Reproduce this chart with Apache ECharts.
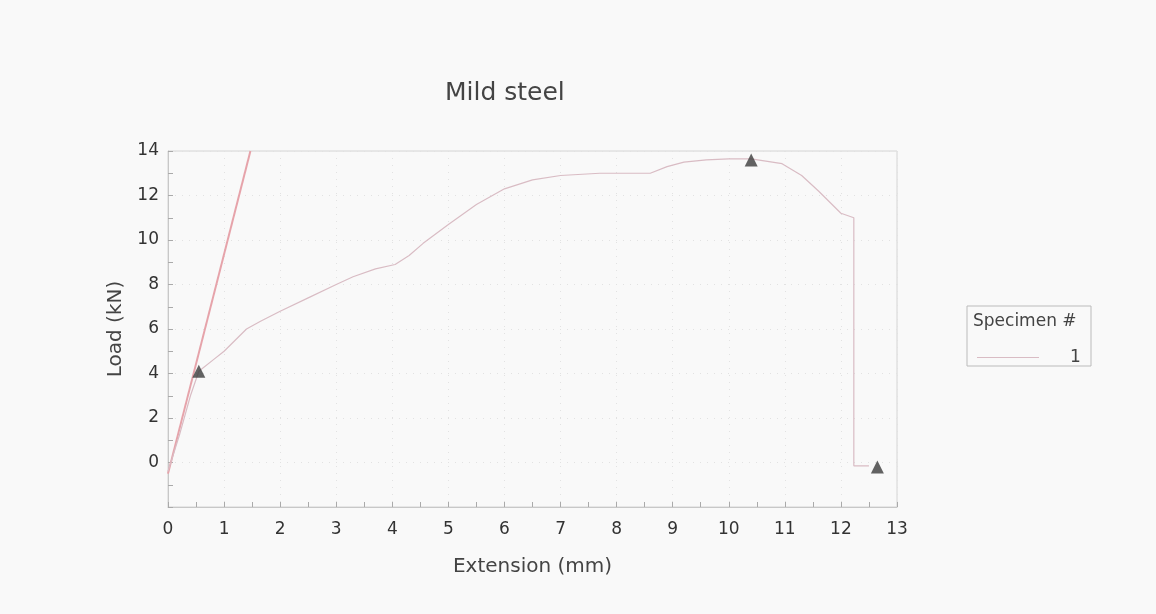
<!DOCTYPE html>
<html>
<head>
<meta charset="utf-8">
<script src="https://cdn.jsdelivr.net/npm/echarts@6/dist/echarts.min.js"></script>
<style>
html,body{margin:0;padding:0;background:#f9f9f9;}
#c{width:1156px;height:614px;}
</style>
</head>
<body>
<div id="c"></div>
<script>
// Extension (mm), Load (kN)
const curveX = [0, 0.2, 0.4, 0.55, 0.8, 1.0, 1.4, 1.65, 2.0, 2.5, 3.0, 3.3, 3.7, 4.05, 4.3, 4.55, 5.0, 5.5, 6.0, 6.5, 7.0, 7.7, 8.6, 8.9, 9.2, 9.6, 10.0, 10.4, 10.95, 11.3, 11.6, 12.0, 12.23, 12.23, 12.5];
const curveY = [-0.4, 1.2, 3.0, 4.1, 4.6, 5.0, 6.0, 6.35, 6.8, 7.4, 8.0, 8.35, 8.7, 8.9, 9.3, 9.85, 10.7, 11.6, 12.3, 12.7, 12.9, 13.0, 13.0, 13.3, 13.5, 13.6, 13.65, 13.65, 13.43, 12.9, 12.2, 11.2, 11.0, -0.15, -0.15];
const slopeX = [0, 1.47];
const slopeY = [-0.5, 14];
const markX = [0.55, 10.4, 12.65];
const markY = [4.1, 13.6, -0.2];
const xTicks = [0, 13, 1];
const yTicks = [-2, 14, 2];

const zip = (a, b) => a.map((v, i) => [v, b[i]]);
const FONT = 'DejaVu Sans';

const chart = echarts.init(document.getElementById('c'));
chart.setOption({
  backgroundColor: '#f9f9f9',
  animation: false,
  title: {
    text: 'Mild steel', left: 440, top: 76,
    textStyle: {fontFamily: FONT, fontSize: 25, fontWeight: 'normal', color: '#444'}
  },
  grid: {left: 168, right: 259, top: 151, bottom: 107, show: true, borderColor: '#d4d4d4', borderWidth: 1, backgroundColor: 'transparent'},
  legend: {
    left: 972, top: 344, itemWidth: 62, itemHeight: 1, itemGap: 0,
    icon: 'rect',
    data: [{name: '1'}],
    textStyle: {fontFamily: FONT, fontSize: 17, color: '#444', padding: [0, 0, 0, 26]}
  },
  graphic: [
    {type: 'rect', shape: {x: 967, y: 306, width: 124, height: 60}, style: {fill: 'none', stroke: '#bbb', lineWidth: 1}},
    {type: 'text', left: 973, top: 313, style: {text: 'Specimen #', fontFamily: FONT, fontSize: 17, fill: '#444'}}
  ],
  xAxis: {
    type: 'value', min: xTicks[0], max: xTicks[1], interval: xTicks[2],
    name: 'Extension (mm)', nameLocation: 'middle', nameGap: 50,
    nameTextStyle: {fontFamily: FONT, fontSize: 20, color: '#444'},
    axisLine: {show: true, onZero: false, lineStyle: {color: '#c8c8c8'}},
    axisTick: {show: true, inside: true, length: 5, lineStyle: {color: '#aaa'}},
    minorTick: {show: true, splitNumber: 2, length: 5, lineStyle: {color: '#aaa'}},
    axisLabel: {margin: 14, fontFamily: FONT, fontSize: 17, color: '#333'},
    splitLine: {show: true, lineStyle: {color: '#e2e2e2', type: [1, 6]}}
  },
  yAxis: {
    type: 'value', min: yTicks[0], max: yTicks[1], interval: yTicks[2],
    name: 'Load (kN)', nameLocation: 'middle', nameGap: 42,
    nameTextStyle: {fontFamily: FONT, fontSize: 20, color: '#444'},
    axisLine: {show: true, onZero: false, lineStyle: {color: '#c8c8c8'}},
    axisTick: {show: true, inside: true, length: 5, lineStyle: {color: '#aaa'}},
    minorTick: {show: true, splitNumber: 2, length: 5, lineStyle: {color: '#aaa'}},
    axisLabel: {margin: 9, fontFamily: FONT, fontSize: 17, color: '#333',
      formatter: v => (v < 0 ? '' : String(v))},
    splitLine: {show: true, lineStyle: {color: '#e2e2e2', type: [1, 6]}}
  },
  series: [
    {name: 'slope', type: 'line', data: zip(slopeX, slopeY), showSymbol: false, silent: true,
      lineStyle: {color: '#e6a3aa', width: 2}, z: 2},
    {name: '1', type: 'line', data: zip(curveX, curveY), showSymbol: false,
      lineStyle: {color: '#d9bcc4', width: 1.2}, itemStyle: {color: '#d9bcc4'}, z: 3},
    {name: 'marks', type: 'scatter', data: zip(markX, markY), symbol: 'triangle', symbolSize: 13,
      itemStyle: {color: '#3c3c3c'}, z: 5}
  ]
});
</script>
</body>
</html>
